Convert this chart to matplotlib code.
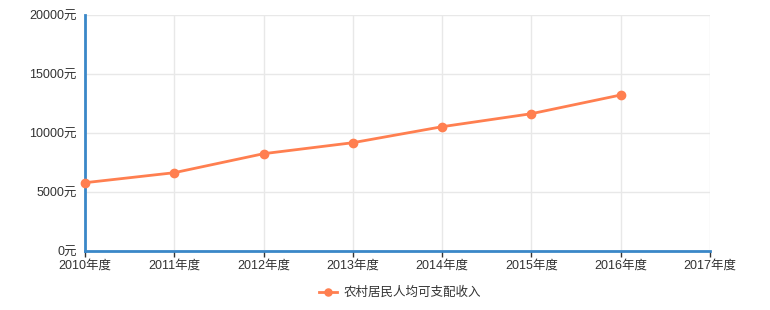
import matplotlib
matplotlib.use("Agg")
import matplotlib.pyplot as plt

plt.rcParams['font.family'] = ['Liberation Sans', 'Noto Sans CJK SC', 'DejaVu Sans']

years = [2010, 2011, 2012, 2013, 2014, 2015, 2016]
income = [5788, 6636, 8246, 9178, 10534, 11636, 13221]
x_ticks = [2010, 2011, 2012, 2013, 2014, 2015, 2016, 2017]
x_labels = [str(y) + "年度" for y in x_ticks]
y_ticks = [0, 5000, 10000, 15000, 20000]
y_labels = [str(v) + "元" for v in y_ticks]
series_name = "农村居民人均可支配收入"

fig = plt.figure(figsize=(7.7, 3.1), dpi=100)
ax = fig.add_axes([85 / 770, 59 / 310, 625 / 770, 236 / 310])

line_color = "#ff7f50"
axis_color = "#3a87c8"

ax.plot(years, income, color=line_color, linewidth=2, marker="o",
        markersize=6, label=series_name, zorder=3, clip_on=False)

ax.set_xlim(2010, 2017)
ax.set_ylim(0, 20000)
ax.set_xticks(x_ticks)
ax.set_xticklabels(x_labels)
ax.set_yticks(y_ticks)
ax.set_yticklabels(y_labels)

ax.grid(True, color="#e8e8e8", linewidth=1)
ax.set_axisbelow(True)

for side in ["top", "right"]:
    ax.spines[side].set_visible(False)
for side in ["left", "bottom"]:
    ax.spines[side].set_color(axis_color)
    ax.spines[side].set_linewidth(2)

ax.tick_params(axis="x", length=4, width=1, color="#333333", labelsize=9,
               labelcolor="#333333", pad=2)
ax.tick_params(axis="y", length=0, labelsize=9, labelcolor="#333333", pad=6)

leg = fig.legend(loc="center", bbox_to_anchor=(400 / 770, 1 - 293 / 310),
                 frameon=False, fontsize=9, handlelength=1.5,
                 handletextpad=0.5, markerscale=0.85)
for t in leg.get_texts():
    t.set_color("#333333")

fig.savefig("out.png", dpi=100)
